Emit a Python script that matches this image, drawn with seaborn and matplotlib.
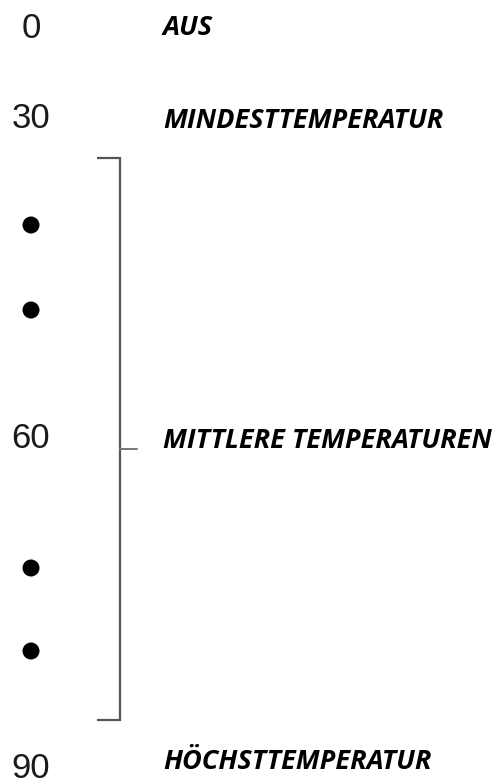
import numpy as np
import pandas as pd
import matplotlib.pyplot as plt
import seaborn as sns

# Dial settings and their labels (vertical position on the diagram, top = 0)
settings = ["0", "30", "60", "90"]
setting_labels = ["AUS", "MINDESTTEMPERATUR", "MITTLERE TEMPERATUREN", "HÖCHSTTEMPERATUR"]
setting_pos = [28, 119, 438, 768]
label_pos = [28, 121, 441, 762]

# Intermediate dots on the dial
dot_pos = [225, 310, 568, 651]

# Bracket spanning the middle range
bracket_top = 158
bracket_bottom = 720
bracket_mid = 449


def draw_diagram():
    sns.set_theme(style="white")
    plt.rcParams['font.family'] = ['Liberation Sans', 'DejaVu Sans']

    fig = plt.figure(figsize=(4.94, 7.83), dpi=100)
    ax = fig.add_axes([0, 0, 1, 1])
    ax.set_xlim(0, 494)
    ax.set_ylim(783, 0)
    ax.axis('off')

    # numbers on the left
    for s, y in zip(settings, setting_pos):
        ax.text(31, y, s, ha='center', va='center', fontsize=25,
                color='#1a1a1a', family=['Liberation Sans', 'DejaVu Sans'])

    # bold italic labels
    for lab, y in zip(setting_labels, label_pos):
        ax.text(163, y, lab, ha='left', va='center', fontsize=19.5,
                fontweight='bold', fontstyle='italic', color='black',
                family=['Open Sans', 'Lato', 'DejaVu Sans'])

    # dots
    dots = pd.DataFrame({'x': [31] * len(dot_pos), 'y': dot_pos})
    sns.scatterplot(data=dots, x='x', y='y', ax=ax, s=150, color='black',
                    edgecolor='none', legend=False)

    # bracket
    ax.plot([97, 120, 120, 97], [bracket_top, bracket_top, bracket_bottom, bracket_bottom],
            color='#555555', lw=1.6, solid_capstyle='butt', solid_joinstyle='miter')
    ax.plot([120, 137], [bracket_mid, bracket_mid], color='#777777', lw=1.4)

    fig.savefig('out.png', dpi=100, facecolor='white')


if __name__ == "__main__":
    draw_diagram()
